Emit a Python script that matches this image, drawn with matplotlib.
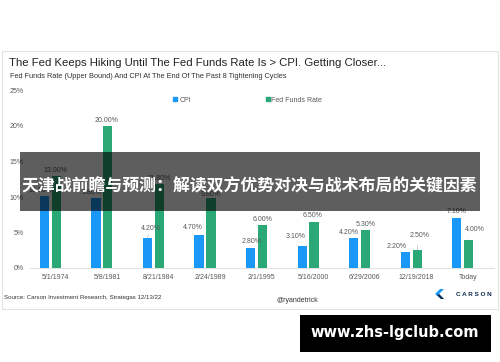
import numpy as np
import matplotlib
matplotlib.use("Agg")
import matplotlib.pyplot as plt
from matplotlib.patches import Rectangle, Polygon
from matplotlib.lines import Line2D

plt.rcParams['font.family'] = ['Liberation Sans', 'DejaVu Sans']

# data
dates = ["5/1/1974", "5/8/1981", "8/21/1984", "2/24/1989", "2/1/1995",
         "5/16/2000", "6/29/2006", "12/19/2018", "Today"]
cpi = [10.10, 9.80, 4.20, 4.70, 2.80, 3.10, 4.20, 2.20, 7.10]
fed_funds = [13.00, 20.00, 11.80, 9.80, 6.00, 6.50, 5.30, 2.50, 4.00]
yticks = [0, 5, 10, 15, 20, 25]

# label nudges in pixels (dx, dy above bar top)
cpi_nudge = [(-4, 6), (-4, 6), (3, 10), (-6, 7), (1, 7), (-6, 9), (-5, 6), (-9, 6), (0, 6)]
ff_nudge = [(-1, 5), (-1, 5), (0, 6), (0, 4), (0, 6), (-1, 6), (0, 6), (2, 15), (6, 10)]

BLUE = '#1a98f7'
GREEN = '#2aa876'
GREY = '#595959'

W, H = 500, 362
fig = plt.figure(figsize=(5, 3.62), dpi=100)
fig.patch.set_facecolor('white')


def fx(px):
    return px / W


def fy(py):
    return 1 - py / H


# card border
fig.patches.append(Rectangle((fx(2), fy(309)), fx(496), 258 / H, transform=fig.transFigure,
                             fill=False, ec='#e3e3e3', lw=0.8, zorder=0))

ax = fig.add_axes([fx(29.7), fy(268), 464 / W, (268 - 90.5) / H])
x = np.arange(len(dates))
bw = 0.18
b1 = ax.bar(x - 0.215, cpi, bw, color=BLUE, zorder=2)
b2 = ax.bar(x + 0.015, fed_funds, bw, color=GREEN, zorder=2)

px2pt = 0.72
for bars, vals, nudges in [(b1, cpi, cpi_nudge), (b2, fed_funds, ff_nudge)]:
    for r, v, (dx, dy) in zip(bars, vals, nudges):
        cx = r.get_x() + r.get_width() / 2
        lead = dict(arrowstyle='-', color='#aaaaaa', lw=0.4, shrinkA=3, shrinkB=0) if dy >= 10 else None
        ax.annotate(f"{v:.2f}%", (cx, v), xytext=(dx * px2pt, dy * px2pt), textcoords='offset points',
                    ha='center', va='center', fontsize=5, color=GREY, arrowprops=lead)

ax.set_xlim(-0.5, len(dates) - 0.5)
ax.set_ylim(0, 25)
ax.set_xticks(x)
ax.set_xticklabels(dates, fontsize=5, color=GREY)
ax.set_yticks(yticks)
ax.set_yticklabels([f"{t}%" for t in yticks], fontsize=5, color=GREY)
ax.tick_params(length=0, pad=4.5)
for s in ['top', 'right', 'left']:
    ax.spines[s].set_visible(False)
ax.spines['bottom'].set_color('#d9d9d9')
ax.spines['bottom'].set_linewidth(0.6)
ax.set_facecolor('none')

handles = [Line2D([], [], ls='', marker='s', ms=2.5, color=BLUE),
           Line2D([], [], ls='', marker='s', ms=2.5, color=GREEN)]
fig.legend(handles, ['CPI', 'Fed Funds Rate'], loc='center', bbox_to_anchor=(fx(248), fy(100)),
           ncol=2, frameon=False, fontsize=5, labelcolor=GREY, handlelength=0.5,
           handletextpad=0.3, columnspacing=10.8)

# titles
fig.text(fx(9), fy(63), "The Fed Keeps Hiking Until The Fed Funds Rate Is > CPI. Getting Closer...",
         fontsize=8.2, color='#222222', va='center', ha='left')
fig.text(fx(10), fy(77), "Fed Funds Rate (Upper Bound) And CPI At The End Of The Past 8 Tightening Cycles",
         fontsize=5.3, color='#333333', va='center', ha='left')

# footer
fig.text(fx(4), fy(298), "Source: Carson Investment Research, Strategas 12/13/22",
         fontsize=4.45, color='#333333', va='center', ha='left')
fig.text(fx(297), fy(300), "@ryandetrick", fontsize=5, color='#333333', va='center', ha='center')
fig.patches.append(Polygon([(fx(440), fy(289)), (fx(435), fy(294)), (fx(441), fy(299)),
                            (fx(444), fy(299)), (fx(439), fy(294)), (fx(444), fy(289))],
                           closed=True, transform=fig.transFigure, fc='#1a98f7', ec='none'))
fig.patches.append(Polygon([(fx(439), fy(294)), (fx(444), fy(299)), (fx(441), fy(299)), (fx(437), fy(295))],
                           closed=True, transform=fig.transFigure, fc='#0d2b4e', ec='none'))
fig.text(fx(474), fy(295), "C A R S O N", fontsize=4.6, color='#0d2b4e', va='center', ha='center',
         fontweight='bold')

# overlay banner
fig.patches.append(Rectangle((fx(20), fy(210.5)), fx(460), 58.5 / H, transform=fig.transFigure,
                             fc='black', alpha=0.63, ec='none', zorder=5))
fig.text(fx(249), fy(186), "天津战前瞻与预测：解读双方优势对决与战术布局的关键因素",
         family=['Noto Sans CJK SC', 'DejaVu Sans'], fontweight='bold', fontsize=12.2,
         color='white', ha='center', va='center', zorder=6)

# watermark
fig.patches.append(Rectangle((fx(300), fy(352)), fx(191), 37 / H, transform=fig.transFigure,
                             fc='black', ec='none', zorder=5))
fig.text(fx(395), fy(333), "www.zhs-lgclub.com", family='DejaVu Sans', fontweight='bold',
         fontsize=10.5, color='white', ha='center', va='center', zorder=6)

fig.savefig("out.png", dpi=100)
